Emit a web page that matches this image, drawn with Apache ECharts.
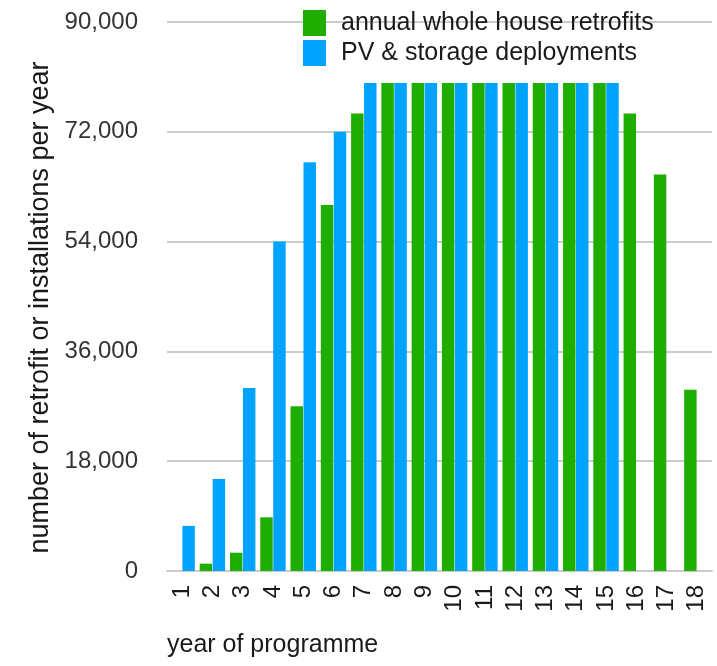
<!DOCTYPE html>
<html>
<head>
<meta charset="utf-8">
<script src="https://cdn.jsdelivr.net/npm/echarts@6/dist/echarts.min.js"></script>
<style>html,body{margin:0;padding:0;background:#fff;}#c{width:717px;height:666px;}</style>
</head>
<body>
<div id="c"></div>
<script>
const categories = ['1','2','3','4','5','6','7','8','9','10','11','12','13','14','15','16','17','18'];
const retrofits = [0, 1200, 3000, 8800, 27000, 60000, 75000, 80000, 80000, 80000, 80000, 80000, 80000, 80000, 80000, 75000, 65000, 29700];
const pvStorage = [7400, 15100, 30000, 54000, 67000, 72000, 80000, 80000, 80000, 80000, 80000, 80000, 80000, 80000, 80000, null, null, null];
const yTicks = [0, 18000, 36000, 54000, 72000, 90000];

const chart = echarts.init(document.getElementById('c'));
const font = 'Liberation Sans, Arial, sans-serif';
chart.setOption({
  animation: false,
  textStyle: { fontFamily: font },
  title: {
    text: 'year of programme',
    left: 162, top: 628,
    textStyle: { fontFamily: font, fontSize: 25, fontWeight: 'normal', color: '#1a1a1a' }
  },
  legend: {
    orient: 'vertical',
    left: 298, top: 5,
    itemWidth: 23, itemHeight: 26, itemGap: 4,
    icon: 'rect',
    textStyle: { fontFamily: font, fontSize: 25, color: '#1a1a1a', padding: [0, 0, 0, 10] },
    data: ['annual whole house retrofits', 'PV & storage deployments']
  },
  grid: { left: 167, right: 5, top: 22, bottom: 95, containLabel: false },
  xAxis: {
    type: 'category',
    data: categories,
    axisLine: { show: true, lineStyle: { color: '#cccccc', width: 2 } },
    axisTick: { show: false },
    axisLabel: { interval: 0, hideOverlap: false, rotate: 90, fontSize: 24, color: '#1a1a1a', margin: 14, fontFamily: font }
  },
  yAxis: {
    type: 'value',
    min: 0, max: 90000, interval: 18000,
    name: 'number of retrofit or installations per year',
    nameLocation: 'middle',
    nameGap: 113,
    nameTextStyle: { fontSize: 27, color: '#1a1a1a', fontFamily: font, padding: [0, 22, 0, 0] },
    axisLine: { show: false },
    axisTick: { show: false },
    splitLine: { lineStyle: { color: '#cccccc', width: 2 } },
    axisLabel: {
      fontSize: 24, color: '#333333', margin: 29, fontFamily: font,
      formatter: v => yTicks.includes(v) ? v.toLocaleString('en-US') : ''
    }
  },
  series: [
    {
      name: 'annual whole house retrofits', type: 'bar', data: retrofits,
      itemStyle: { color: '#1fae00' },
      barGap: '4%', barCategoryGap: '16%'
    },
    {
      name: 'PV & storage deployments', type: 'bar', data: pvStorage,
      itemStyle: { color: '#00a4ff' },
      barGap: '4%', barCategoryGap: '16%'
    }
  ]
});
</script>
</body>
</html>
